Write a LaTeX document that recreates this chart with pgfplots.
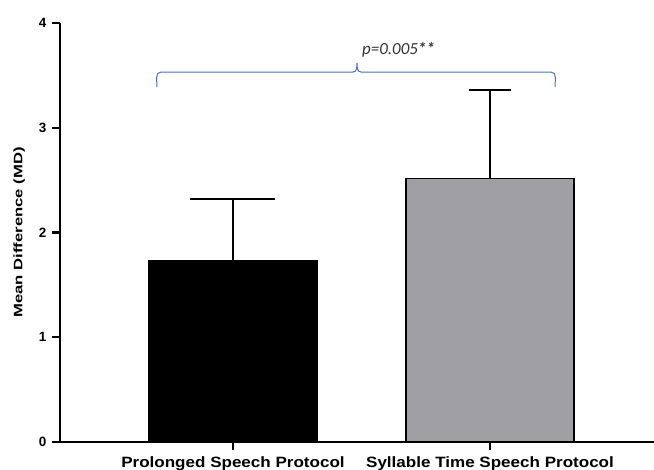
\documentclass[border=0pt]{standalone}
\usepackage{fontspec}
\setmainfont{Liberation Sans}
\newfontfamily\calibri{Carlito}
\usepackage{graphicx}
\usepackage{pgfplots}
\pgfplotsset{compat=1.18}
\definecolor{bargrey}{HTML}{A09FA4}
\definecolor{braceblue}{HTML}{4472C4}
\definecolor{ptext}{HTML}{333333}
\newcommand\yt[1]{{\bfseries\fontsize{13.5}{15}\selectfont #1}}
\newcommand\xt[1]{{\bfseries\fontsize{15}{17}\selectfont\scalebox{1.14}[1]{#1}}}

\begin{document}
\begin{tikzpicture}
\begin{axis}[
  scale only axis, width=594bp, height=419bp,
  xmin=-0.673, xmax=1.638, ymin=0, ymax=4,
  axis x line*=bottom, axis y line*=left,
  axis line style={line width=2.2bp, black, -},
  ytick={0,1,2,3,4},
  yticklabels={\yt{0},\yt{1},\yt{2},\yt{3},\yt{4}},
  xtick={0,1},
  xticklabels={\xt{Prolonged Speech Protocol},\xt{Syllable Time Speech Protocol}},
  tick align=outside,
  major tick length=7.5bp,
  every tick/.style={black, line width=2.2bp},
  /pgf/number format/assume math mode=true,
  yticklabel style={xshift=-2.6bp},
  xticklabel style={anchor=base, yshift=-18bp},
  ylabel={\scalebox{1.36}[1]{Mean Difference (MD)}},
  ylabel style={font=\bfseries\fontsize{12.3}{14}\selectfont, at={(axis description cs:-0.0635,0.5)}, anchor=base},
  ybar, bar width=168bp, bar shift=0pt,
  clip=false,
]
\addplot[fill=black, draw=black, line width=1.2bp,
  error bars/.cd, y dir=plus, y explicit, error mark=|,
  error bar style={line width=1.5bp, black},
  error mark options={line width=1.5bp, mark size=42.5bp, black}]
  coordinates {(0,1.728) +- (0,0.592)};
\addplot[fill=bargrey, draw=black, line width=1.3bp,
  error bars/.cd, y dir=plus, y explicit, error mark=|,
  error bar style={line width=1.5bp, black},
  error mark options={line width=1.5bp, mark size=21bp, black}]
  coordinates {(1,2.514) +- (0,0.846)};
\coordinate (BL) at (axis cs:-0.2957,3.532);
\coordinate (BM) at (axis cs:0.4825,3.532);
\coordinate (BR) at (axis cs:1.2529,3.532);
\coordinate (PT) at (axis cs:0.502,3.695);
\coordinate (AO) at (rel axis cs:0,0);
\coordinate (AT) at (rel axis cs:1,1);
\end{axis}
\draw[braceblue, line width=1bp, line join=round]
 ([yshift=-15bp]BL) to[out=90,in=180] ([xshift=4bp]BL) -- ([xshift=-4bp]BM)
 to[out=0,in=-90] ([yshift=9bp]BM) to[out=-90,in=180] ([xshift=4bp]BM)
 -- ([xshift=-4bp]BR) to[out=0,in=90] ([yshift=-15bp]BR);
\node[anchor=base west, font=\calibri\itshape\fontsize{17}{20}\selectfont, text=ptext, inner sep=0pt] at (PT) {p=0.005{\bfseries **}};
\pgfresetboundingbox
\path[use as bounding box] ([shift={(-60bp,-28bp)}]AO) rectangle ([shift={(0bp,23bp)}]AT);
\end{tikzpicture}
\end{document}
